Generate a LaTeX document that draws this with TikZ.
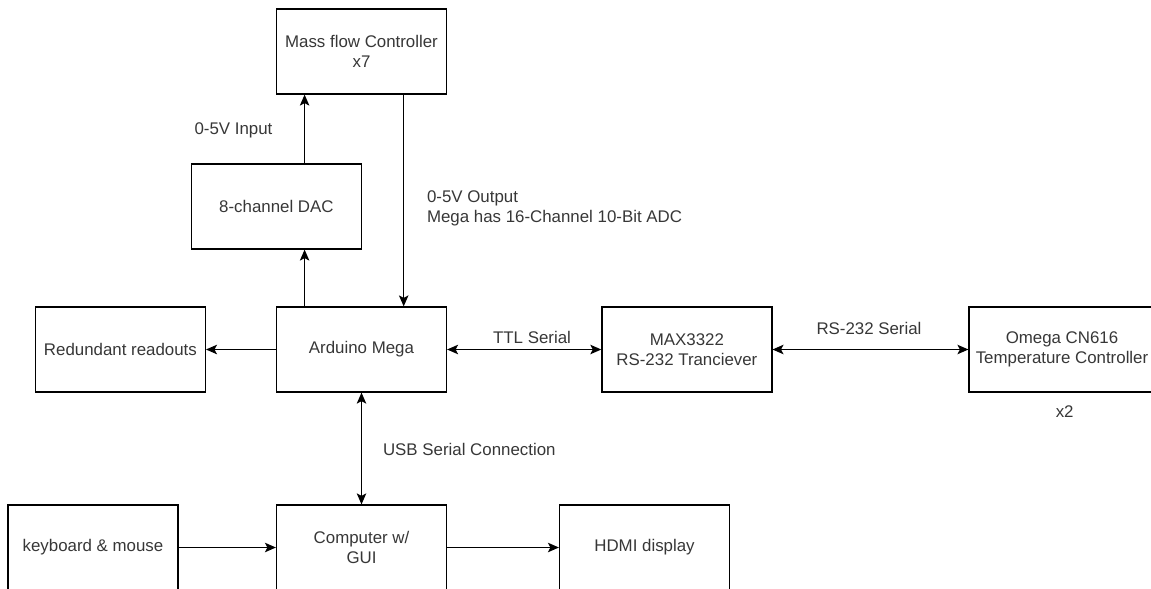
\documentclass[tikz,border=0pt]{standalone}
\usepackage{fontspec}
\setmainfont{Liberation Sans}
\usetikzlibrary{arrows.meta}
\definecolor{txtgray}{RGB}{55,55,55}
\tikzset{
  blk/.style={draw=black, line width=0.7pt, minimum width=3.4cm, minimum height=1.7cm,
    align=center, inner sep=0pt, text=txtgray},
  lbl/.style={text=txtgray, inner sep=0pt},
  link/.style={line width=0.7pt, -{Stealth[length=2.2mm,width=1.9mm,inset=0.5mm]}},
  dlink/.style={line width=0.7pt,
    {Stealth[length=2.2mm,width=1.9mm,inset=0.5mm]}-{Stealth[length=2.2mm,width=1.9mm,inset=0.5mm]}}
}
\begin{document}
\begin{tikzpicture}[x=0.02cm, y=-0.02cm, font=\fontsize{9.6}{11.4}\selectfont]
  \clip (0,0) rectangle (1151,588);
  % boxes
  \node[blk] (mfc) at (361.5,51.5) {Mass flow Controller\\x7};
  \node[blk] (dac) at (276.4,206.5) {8-channel DAC};
  \node[blk] (mega) at (361.5,349.5) {Arduino Mega};
  \node[blk] (redund) at (120.4,349.5) {Redundant readouts};
  \node[blk] (max) at (686.9,349.5) {MAX3322\\RS-232 Tranciever};
  \node[blk, minimum width=3.72cm] (omega) at (1062,349.5)
    {Omega CN616\\Temperature Controller};
  \node[blk] (keyb) at (93,547.5) {keyboard \& mouse};
  \node[blk] (pc) at (361.5,547.5) {Computer w/\\GUI};
  \node[blk] (hdmi) at (644.5,547.5) {HDMI display};
  % labels
  \node[lbl] (inlbl) at (233.5,130) {0-5V Input};
  \node[lbl, anchor=west, align=left] (outlbl) at (426.7,208)
    {0-5V Output\\Mega has 16-Channel 10-Bit ADC};
  \node[lbl] (ttllbl) at (532,337) {TTL Serial};
  \node[lbl] (rslbl) at (869,328) {RS-232 Serial};
  \node[lbl] (cnt) at (1064.7,412) {x2};
  \node[lbl, anchor=west] (usblbl) at (382.7,449) {USB Serial Connection};
  % connectors
  \coordinate (dacx) at ([xshift=0.564cm]dac.south);
  \draw[link] (mega.north -| dacx) -- (dacx);
  \draw[link] ([xshift=0.564cm]dac.north) -- ([xshift=0.564cm]dac.north |- mfc.south);
  \draw[link] ([xshift=0.844cm]mfc.south) -- ([xshift=0.844cm]mega.north);
  \draw[link] (mega) -- (redund);
  \draw[dlink] (mega) -- (max);
  \draw[dlink] (max) -- (omega.west);
  \draw[dlink] (mega) -- (pc);
  \draw[link] (keyb) -- (pc);
  \draw[link] (pc) -- (hdmi);
\end{tikzpicture}
\end{document}
